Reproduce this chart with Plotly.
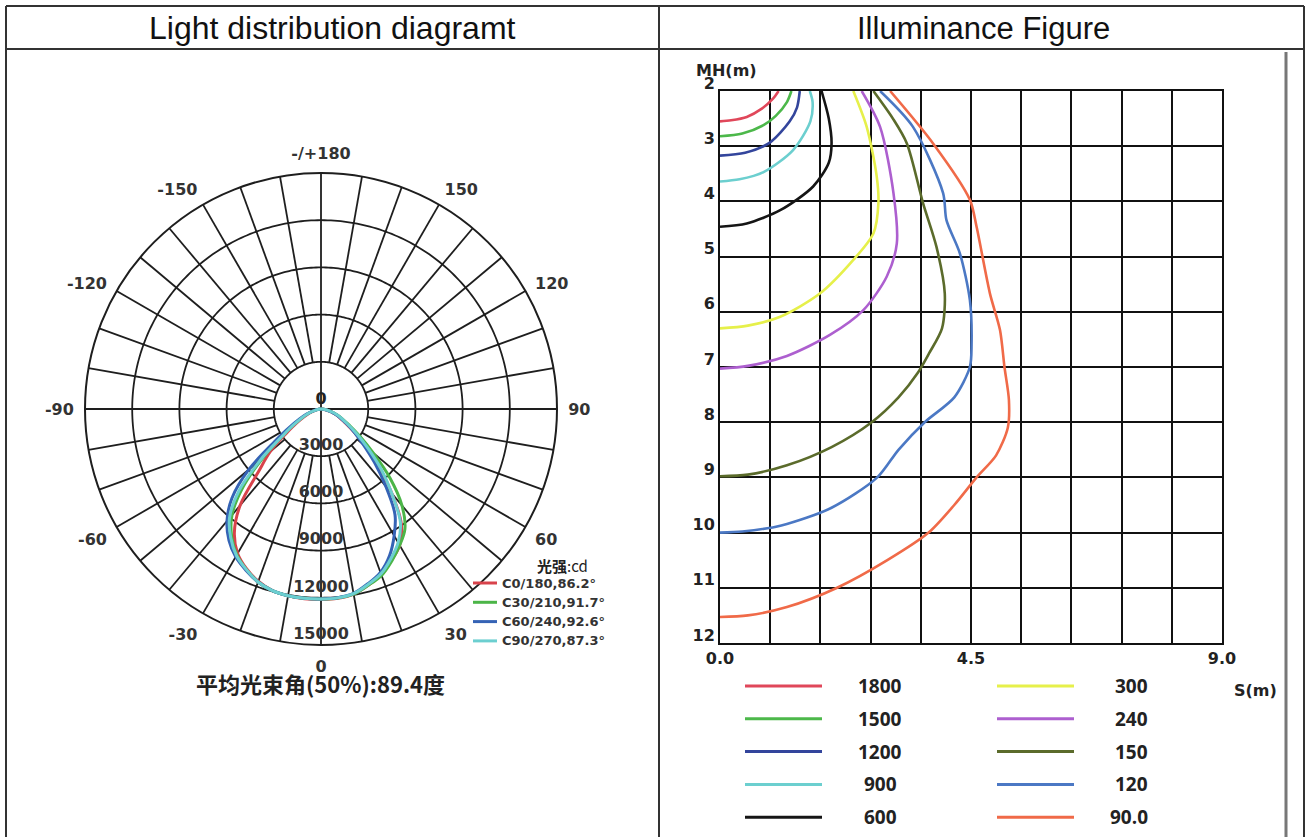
import plotly.graph_objects as go

W, H = 1306, 837


def X(p):
    return p / W


def Y(p):
    return 1 - p / H


# ---------------- Light distribution (polar) data ----------------
angles = [-90, -80, -70, -60, -55, -50, -45, -40, -35, -30, -25, -20, -15, -10, -5, 0,
          5, 10, 15, 20, 25, 30, 35, 40, 45, 50, 55, 60, 70, 80, 90]
c0_180 = [0, 250, 800, 1800, 2700, 4200, 5600, 8000, 9600, 10600, 11200, 11650, 11950, 12050, 12100, 12100,
          12080, 11950, 11600, 11200, 10600, 10000, 8900, 7000, 5200, 3700, 2600, 1800, 1000, 350, 0]
c30_210 = [0, 300, 900, 2000, 3000, 4800, 7000, 8800, 9900, 10700, 11250, 11700, 11950, 12050, 12080, 12080,
           12060, 11950, 11600, 11250, 10650, 10000, 9300, 8000, 6200, 4300, 3000, 2100, 1100, 400, 0]
c60_240 = [0, 350, 1000, 2300, 3600, 6000, 8000, 9300, 10200, 10850, 11300, 11700, 11950, 12050, 12080, 12070,
           12040, 11900, 11500, 11050, 10300, 9300, 8200, 6400, 4800, 3500, 2600, 1900, 1000, 350, 0]
c90_270 = [0, 300, 900, 2000, 3000, 5000, 7400, 9050, 10000, 10750, 11250, 11700, 11950, 12050, 12080, 12070,
           12050, 11920, 11550, 11150, 10500, 9800, 8800, 7000, 5400, 3900, 2800, 2000, 1100, 400, 0]
polar_names = ["C0/180,86.2°", "C30/210,91.7°", "C60/240,92.6°", "C90/270,87.3°"]
polar_colors = ["#d8434b", "#4cb548", "#3563b5", "#6ccfd0"]
radial_rings = [3000, 6000, 9000, 12000, 15000]
radial_labels = ["3000", "6000", "9000", "12000", "15000"]
ang_tickvals = [0, 30, 60, 90, 120, 150, 180, 210, 240, 270, 300, 330]
ang_ticktext = ["0", "30", "60", "90", "120", "150", "-/+180", "-150", "-120", "-90", "-60", "-30"]

# ---------------- Illuminance (isolux) data ----------------
iso_levels = ["1800", "1500", "1200", "900", "600", "300", "240", "150", "120", "90.0"]
iso_colors = ["#e0475a", "#4cb84a", "#33459c", "#6ccfcf", "#151515",
              "#e6f04a", "#ad5fcf", "#5b6b2b", "#4b78c4", "#f06a48"]
s_1800 = [1.05, 0.95, 0.75, 0.48, 0.2, 0.0]
mh_1800 = [2.0, 2.14, 2.32, 2.47, 2.53, 2.55]
s_1500 = [1.28, 1.2, 1.0, 0.78, 0.4, 0.0]
mh_1500 = [2.0, 2.2, 2.45, 2.62, 2.77, 2.82]
s_1200 = [1.43, 1.38, 1.25, 0.9, 0.45, 0.0]
mh_1200 = [2.0, 2.3, 2.55, 2.93, 3.12, 3.17]
s_900 = [1.61, 1.66, 1.62, 1.31, 0.78, 0.35, 0.0]
mh_900 = [2.0, 2.2, 2.55, 3.07, 3.47, 3.6, 3.64]
s_600 = [1.82, 1.95, 2.0, 1.95, 1.67, 1.08, 0.48, 0.0]
mh_600 = [2.0, 2.5, 2.95, 3.3, 3.73, 4.16, 4.4, 4.46]
s_300 = [2.39, 2.63, 2.81, 2.84, 2.75, 2.39, 1.79, 1.08, 0.5, 0.0]
mh_300 = [2.0, 2.65, 3.55, 4.03, 4.58, 5.06, 5.67, 6.09, 6.25, 6.3]
s_240 = [2.54, 2.87, 3.11, 3.17, 2.99, 2.57, 1.97, 1.2, 0.5, 0.0]
mh_240 = [2.0, 2.65, 3.85, 4.76, 5.36, 5.97, 6.42, 6.8, 6.98, 7.03]
s_150 = [2.75, 3.1, 3.35, 3.64, 3.88, 4.03, 3.98, 3.75, 3.55, 3.2, 2.72, 2.0, 1.2, 0.5, 0.0]
mh_150 = [2.0, 2.5, 2.95, 4.03, 4.82, 5.67, 6.3, 6.75, 7.1, 7.55, 8.0, 8.45, 8.78, 8.95, 8.98]
s_120 = [2.87, 3.46, 4.0, 4.06, 4.3, 4.48, 4.51, 4.48, 4.2, 3.67, 3.2, 2.82, 2.0, 1.1, 0.4, 0.0]
mh_120 = [2.0, 2.65, 3.85, 4.34, 4.94, 5.79, 6.6, 7.0, 7.55, 8.0, 8.5, 9.0, 9.55, 9.87, 9.98, 10.0]
s_90 = [3.05, 3.82, 4.48, 4.6, 4.84, 5.02, 5.1, 5.18, 5.16, 4.95, 4.6, 4.2, 3.74, 3.0, 2.1, 1.2, 0.5, 0.0]
mh_90 = [2.0, 2.95, 3.97, 4.46, 5.67, 6.33, 7.0, 7.6, 8.1, 8.6, 9.0, 9.5, 10.0, 10.5, 11.0, 11.35, 11.5, 11.53]
iso_s = [s_1800, s_1500, s_1200, s_900, s_600, s_300, s_240, s_150, s_120, s_90]
iso_mh = [mh_1800, mh_1500, mh_1200, mh_900, mh_600, mh_300, mh_240, mh_150, mh_120, mh_90]
x_ticks = [0.0, 4.5, 9.0]
x_ticktext = ["0.0", "4.5", "9.0"]
x_minor = [0.9, 1.8, 2.7, 3.6, 5.4, 6.3, 7.2, 8.1]
y_ticks = [2, 3, 4, 5, 6, 7, 8, 9, 10, 11, 12]

BOLD = "DejaVu Sans"
fig = go.Figure()

# ---- polar grid (rings + spokes) ----
ring_r, ring_t = [], []
for rr in radial_rings[:-1]:
    ring_r += [rr] * 361 + [None]
    ring_t += list(range(361)) + [None]
fig.add_trace(go.Scatterpolar(r=ring_r, theta=ring_t, mode="lines",
                              line=dict(color="#1e1e1e", width=1.8), hoverinfo="skip", subplot="polar"))
sp_r, sp_t = [], []
for a in range(0, 360, 10):
    r0 = 0 if a % 90 == 0 else radial_rings[0]
    sp_r += [r0, radial_rings[-1], None]
    sp_t += [a, a, None]
fig.add_trace(go.Scatterpolar(r=sp_r, theta=sp_t, mode="lines",
                              line=dict(color="#1e1e1e", width=1.8), hoverinfo="skip", subplot="polar"))

# ---- polar curves ----
for vals, nm, col in zip([c0_180, c30_210, c60_240, c90_270], polar_names, polar_colors):
    fig.add_trace(go.Scatterpolar(r=vals, theta=angles, mode="lines", name=nm,
                                  line=dict(color=col, width=3, shape="spline"), subplot="polar"))

# radial labels
fig.add_trace(go.Scatterpolar(r=[v - 650 for v in radial_rings], theta=[0] * 5, mode="text",
                              text=radial_labels,
                              textfont=dict(family=BOLD, size=16, color="#333", weight="bold"),
                              hoverinfo="skip", subplot="polar"))
fig.add_trace(go.Scatterpolar(r=[570], theta=[180], mode="text", text=["0"],
                              textfont=dict(family=BOLD, size=16, color="#222", weight="bold"),
                              hoverinfo="skip", subplot="polar"))

# ---- isolux curves ----
for sx, my, col, lv in zip(iso_s, iso_mh, iso_colors, iso_levels):
    fig.add_trace(go.Scatter(x=sx, y=my, mode="lines", name=lv,
                             line=dict(color=col, width=2.6, shape="spline", smoothing=0.8),
                             xaxis="x", yaxis="y"))

cx, cy, R = 321, 409, 236
fig.update_layout(
    width=W, height=H, margin=dict(l=0, r=0, t=0, b=0, autoexpand=False),
    paper_bgcolor="white", plot_bgcolor="white", showlegend=False,
    polar=dict(
        domain=dict(x=[X(cx - R), X(cx + R)], y=[Y(cy + R), Y(cy - R)]),
        bgcolor="white",
        angularaxis=dict(rotation=270, direction="counterclockwise", tickmode="array",
                         tickvals=ang_tickvals, ticktext=ang_ticktext, showgrid=False,
                         showline=True, linecolor="#1e1e1e", linewidth=2, ticks="outside",
                         ticklen=7, tickcolor="rgba(0,0,0,0)",
                         tickfont=dict(family=BOLD, size=16, color="#333", weight="bold")),
        radialaxis=dict(range=[0, 15000], showgrid=False, showline=False,
                        showticklabels=False, ticks=""),
    ),
    xaxis=dict(domain=[X(720), X(1222)], range=[0, 9], tickmode="array", tickvals=x_ticks,
               ticktext=x_ticktext, showgrid=True, gridcolor="#111", gridwidth=2,
               minor=dict(tickvals=x_minor, showgrid=True, gridcolor="#111", gridwidth=2),
               zeroline=False, showline=True, mirror=True, linecolor="#111", linewidth=2,
               ticks="", ticklabelstandoff=0,
               tickfont=dict(family=BOLD, size=16, color="#222", weight="bold"),
               anchor="y"),
    yaxis=dict(domain=[Y(643), Y(91)], range=[12, 2], tickmode="array", tickvals=y_ticks,
               showgrid=True, gridcolor="#111", gridwidth=2, zeroline=False, showline=True,
               mirror=True, linecolor="#111", linewidth=2, ticks="",
               ticklabelshift=8,
               tickfont=dict(family=BOLD, size=16, color="#222", weight="bold"), anchor="x"),
)

shapes = []
ln = dict(color="#333", width=2)
shapes.append(dict(type="line", xref="paper", yref="paper", x0=X(6), x1=X(1304), y0=Y(6), y1=Y(6), line=ln))
shapes.append(dict(type="line", xref="paper", yref="paper", x0=X(6), x1=X(1304), y0=Y(49), y1=Y(49), line=ln))
shapes.append(dict(type="line", xref="paper", yref="paper", x0=X(6), x1=X(6), y0=Y(6), y1=Y(837), line=ln))
shapes.append(dict(type="line", xref="paper", yref="paper", x0=X(659), x1=X(659), y0=Y(6), y1=Y(837), line=ln))
shapes.append(dict(type="line", xref="paper", yref="paper", x0=X(1304), x1=X(1304), y0=Y(6), y1=Y(837), line=ln))
shapes.append(dict(type="line", xref="paper", yref="paper", x0=X(1286), x1=X(1286), y0=Y(52), y1=Y(837),
                   line=dict(color="#777", width=3)))

annotations = []


def txt(x, y, s, size, color="#111", family="Liberation Sans", weight="normal", xanchor="center"):
    annotations.append(dict(x=X(x), y=Y(y), xref="paper", yref="paper", text=s, showarrow=False,
                            xanchor=xanchor, yanchor="middle",
                            font=dict(family=family, size=size, color=color, weight=weight)))


txt(332, 28, "Light distribution diagramt", 32)
txt(983, 28, "Illuminance Figure", 31)

# polar legend
txt(535, 565, "<b>光强</b>:cd", 15, color="#222", family="Noto Sans CJK SC", xanchor="left")
for i, (nm, col) in enumerate(zip(polar_names, polar_colors)):
    yy = 583 + i * 19.3
    shapes.append(dict(type="line", xref="paper", yref="paper", x0=X(473), x1=X(497), y0=Y(yy), y1=Y(yy),
                       line=dict(color=col, width=3)))
    txt(500, yy, nm, 13, color="#333", family=BOLD, weight="bold", xanchor="left")
txt(320, 683, "平均光束角(50%):89.4度", 22, color="#222", family="Noto Sans CJK SC", weight="bold")

# illuminance labels
txt(727, 70, "MH(m)", 16, color="#222", family=BOLD, weight="bold")
txt(1255, 690, "S(m)", 16, color="#222", family=BOLD, weight="bold")
for i in range(5):
    yy = 686 + i * 32.8
    shapes.append(dict(type="line", xref="paper", yref="paper", x0=X(745), x1=X(822), y0=Y(yy), y1=Y(yy),
                       line=dict(color=iso_colors[i], width=3)))
    txt(880, yy, iso_levels[i], 19, color="#222", family="Open Sans", weight="bold")
    shapes.append(dict(type="line", xref="paper", yref="paper", x0=X(997), x1=X(1074), y0=Y(yy), y1=Y(yy),
                       line=dict(color=iso_colors[5 + i], width=3)))
    txt(1150, yy, iso_levels[5 + i], 19, color="#222", family="Open Sans", weight="bold", xanchor="right")

fig.update_layout(shapes=shapes, annotations=annotations)
fig.write_html("out.html", config={"displayModeBar": False},
               post_script="document.body.style.margin='0';document.body.style.overflow='hidden';")
